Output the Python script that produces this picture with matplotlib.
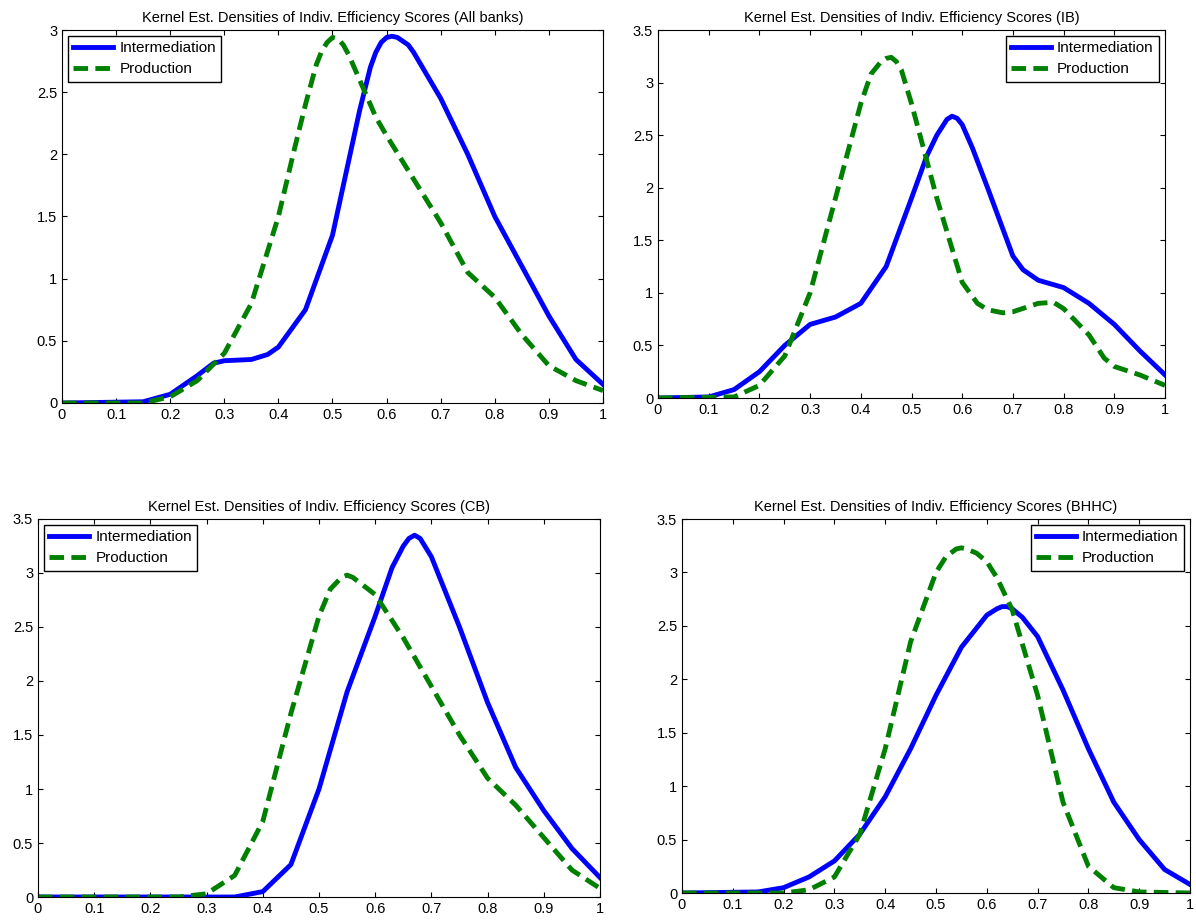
import matplotlib
matplotlib.use("Agg")
import matplotlib.pyplot as plt
from matplotlib.ticker import FuncFormatter

plt.rcParams['font.family'] = ['Liberation Sans', 'DejaVu Sans']

titles = ["Kernel Est. Densities of Indiv. Efficiency Scores (All banks)",
          "Kernel Est. Densities of Indiv. Efficiency Scores (IB)",
          "Kernel Est. Densities of Indiv. Efficiency Scores (CB)",
          "Kernel Est. Densities of Indiv. Efficiency Scores (BHHC)"]

all_int_x = [0,.15,.2,.25,.28,.3,.35,.38,.4,.45,.5,.53,.55,.57,.58,.59,.6,.61,.62,.64,.65,.7,.75,.8,.85,.9,.95,1]
all_int_y = [0,.01,.07,.22,.32,.34,.35,.39,.45,.75,1.35,1.95,2.35,2.7,2.82,2.9,2.94,2.95,2.94,2.88,2.82,2.45,2.0,1.5,1.1,.7,.35,.15]
all_pro_x = [0,.15,.2,.25,.3,.35,.4,.43,.45,.47,.48,.49,.5,.51,.52,.53,.55,.58,.6,.65,.7,.75,.8,.85,.9,.95,1]
all_pro_y = [0,0,.05,.18,.4,.8,1.5,2.05,2.4,2.72,2.83,2.9,2.94,2.93,2.88,2.8,2.6,2.3,2.15,1.8,1.45,1.05,.85,.55,.3,.18,.1]

ib_int_x = [0,.1,.15,.2,.25,.3,.35,.4,.45,.5,.53,.55,.57,.58,.59,.6,.62,.65,.7,.72,.75,.8,.85,.9,.95,1]
ib_int_y = [0,.01,.08,.25,.5,.7,.77,.9,1.25,1.9,2.3,2.5,2.65,2.68,2.66,2.6,2.38,2.0,1.35,1.22,1.12,1.05,.9,.7,.45,.22]
ib_pro_x = [0,.15,.2,.25,.3,.35,.4,.42,.44,.45,.46,.47,.48,.5,.55,.6,.63,.65,.68,.7,.75,.78,.8,.85,.88,.9,.95,1]
ib_pro_y = [0,.01,.12,.4,1.0,1.9,2.8,3.08,3.2,3.23,3.24,3.2,3.12,2.8,1.9,1.1,.9,.84,.81,.82,.9,.91,.85,.6,.38,.3,.22,.12]

cb_int_x = [0,.35,.4,.45,.5,.55,.6,.63,.65,.66,.67,.68,.7,.75,.8,.85,.9,.95,1]
cb_int_y = [0,0,.05,.3,1.0,1.9,2.6,3.05,3.25,3.32,3.35,3.32,3.15,2.5,1.8,1.2,.8,.45,.18]
cb_pro_x = [0,.25,.3,.35,.4,.45,.5,.52,.54,.55,.56,.58,.6,.65,.7,.75,.8,.85,.9,.95,1]
cb_pro_y = [0,0,.03,.2,.7,1.7,2.6,2.85,2.96,2.98,2.96,2.88,2.8,2.4,1.95,1.5,1.1,.85,.55,.25,.08]

bh_int_x = [0,.15,.2,.25,.3,.35,.4,.45,.5,.55,.6,.62,.63,.64,.65,.67,.7,.75,.8,.85,.9,.95,1]
bh_int_y = [0,.01,.05,.15,.3,.55,.9,1.35,1.85,2.3,2.6,2.66,2.68,2.68,2.66,2.58,2.4,1.9,1.35,.85,.5,.22,.08]
bh_pro_x = [0,.2,.25,.3,.35,.4,.45,.5,.52,.54,.55,.56,.58,.6,.62,.65,.7,.75,.8,.85,.9,1]
bh_pro_y = [0,0,.03,.15,.55,1.35,2.35,3.0,3.15,3.22,3.23,3.22,3.18,3.1,2.95,2.65,1.85,.85,.25,.05,.01,0]

data = [(all_int_x, all_int_y, all_pro_x, all_pro_y),
        (ib_int_x, ib_int_y, ib_pro_x, ib_pro_y),
        (cb_int_x, cb_int_y, cb_pro_x, cb_pro_y),
        (bh_int_x, bh_int_y, bh_pro_x, bh_pro_y)]
ymax = [3, 3.5, 3.5, 3.5]
locs = ["upper left", "upper right", "upper left", "upper right"]
rects = [(62, 603, 30, 403), (658, 1165, 30, 398), (38, 600, 519, 897), (682, 1190, 519, 893)]

W, H = 1196, 921
fig = plt.figure(figsize=(W/100, H/100), dpi=100)
fmt = FuncFormatter(lambda v, p: f"{v:g}")
for i in range(4):
    l, r, t, b = rects[i]
    ax = fig.add_axes([l/W, 1-b/H, (r-l)/W, (b-t)/H])
    ix, iy, px, py = data[i]
    ax.plot(ix, iy, color="blue", lw=3.5, label="Intermediation", solid_joinstyle="round")
    ax.plot(px, py, color="green", lw=3.5, ls="--", dashes=(3, 1.5), label="Production")
    ax.set_xlim(0, 1)
    ax.set_ylim(0, ymax[i])
    ax.set_xticks([x/10 for x in range(11)])
    ax.xaxis.set_major_formatter(fmt)
    ax.yaxis.set_major_formatter(fmt)
    ax.tick_params(direction="in", labelsize=10.5, top=True, right=True)
    ax.set_title(titles[i], fontsize=10.5)
    ax.legend(loc=locs[i], fancybox=False, edgecolor="black", fontsize=11,
              handlelength=2.6, borderaxespad=0.4, framealpha=1,
              borderpad=0.35, labelspacing=0.45, handletextpad=0.4)
fig.savefig("out.png", dpi=100)
